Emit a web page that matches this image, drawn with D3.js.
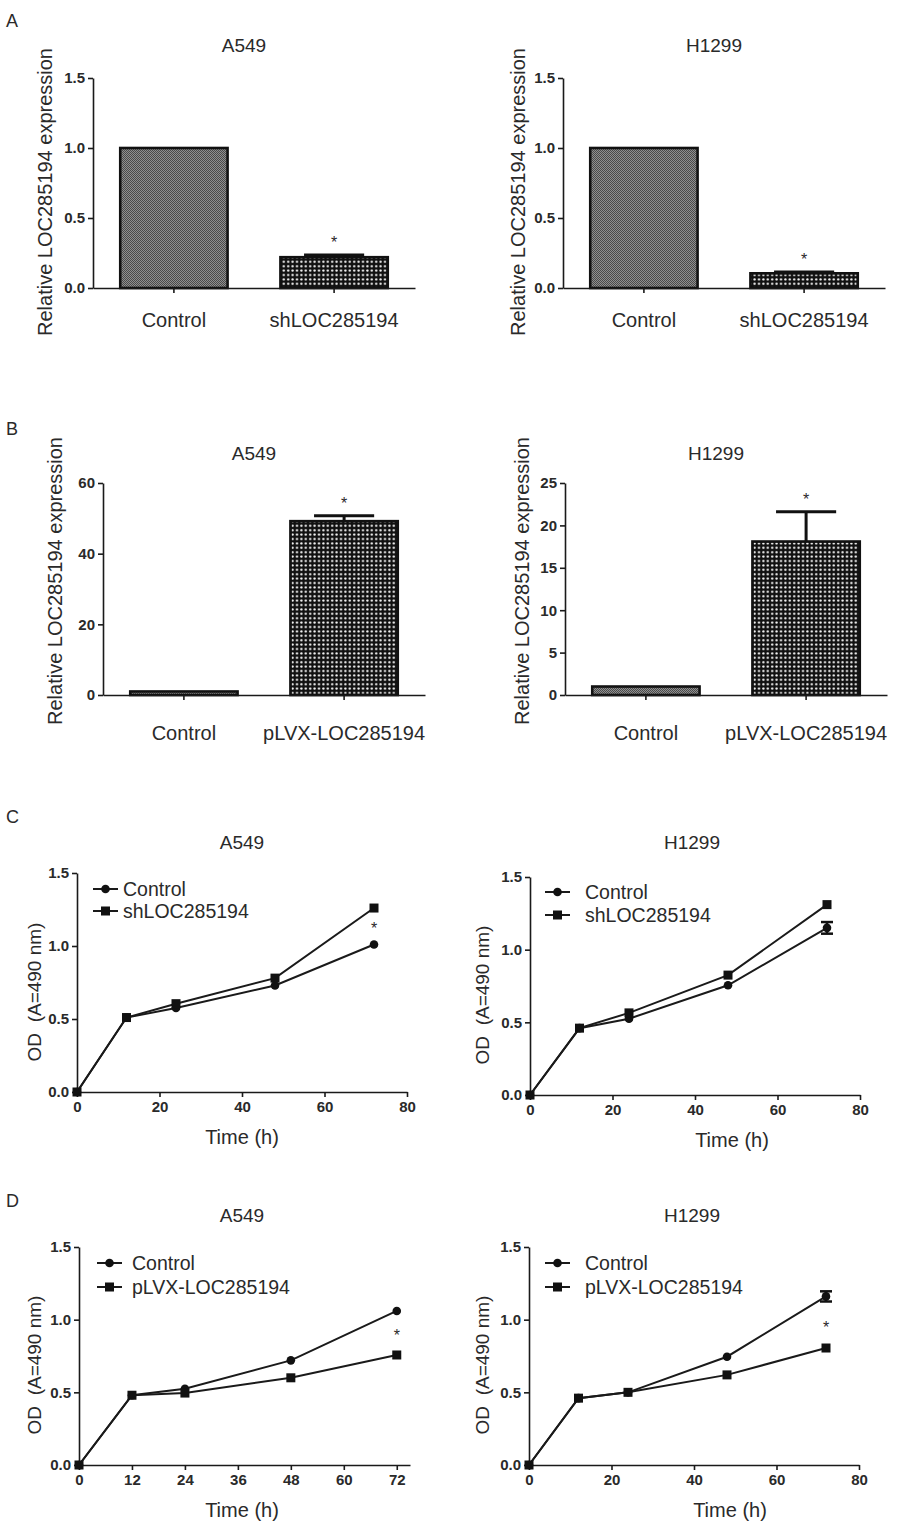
<!DOCTYPE html>
<html>
<head>
<meta charset="utf-8">
<script src="https://cdn.jsdelivr.net/npm/d3@7"></script>
<style>
  body { margin: 0; background: #fff; }
  text { font-family: "Liberation Sans", Arial, sans-serif; fill: #2a2a2a; }
  .tick text { font-weight: bold; font-size: 15px; }
  .domain, .tick line { stroke: #1a1a1a; stroke-width: 1.6px; }
</style>
</head>
<body>
<script>
// data
var knockCats = ["Control", "shLOC285194"];
var overCats = ["Control", "pLVX-LOC285194"];

var knockA549 = [1.0, 0.22];
var knockA549Err = [0, 0.015];
var knockH1299 = [1.0, 0.105];
var knockH1299Err = [0, 0.01];
var overA549 = [1.0, 49.2];
var overA549Err = [0, 1.5];
var overH1299 = [1.0, 18.1];
var overH1299Err = [0, 3.5];

var hours = [0, 12, 24, 48, 72];
var ctrlC_A549 = [0, 0.51, 0.575, 0.73, 1.01];
var shC_A549 = [0, 0.51, 0.605, 0.78, 1.26];
var ctrlC_H1299 = [0, 0.46, 0.525, 0.755, 1.15];
var ctrlC_H1299Err = [0, 0, 0, 0, 0.04];
var shC_H1299 = [0, 0.46, 0.565, 0.825, 1.31];
var ctrlD_A549 = [0, 0.48, 0.525, 0.72, 1.06];
var pD_A549 = [0, 0.48, 0.495, 0.60, 0.757];
var ctrlD_H1299 = [0, 0.46, 0.50, 0.745, 1.16];
var ctrlD_H1299Err = [0, 0, 0, 0, 0.035];
var pD_H1299 = [0, 0.46, 0.50, 0.62, 0.805];
var zeroErr = [0, 0, 0, 0, 0];

var relTicks = [0, 0.5, 1.0, 1.5];
var overTicksA549 = [0, 20, 40, 60];
var overTicksH1299 = [0, 5, 10, 15, 20, 25];
var odTicks = [0, 0.5, 1.0, 1.5];
var timeTicks80 = [0, 20, 40, 60, 80];
var timeTicks72 = [0, 12, 24, 36, 48, 60, 72];

var svg = d3.select("body").append("svg")
    .attr("width", 898)
    .attr("height", 1525);

// motifs de remplissage des barres
var defs = svg.append("defs");
var pg = defs.append("pattern").attr("id", "grayfill")
    .attr("patternUnits", "userSpaceOnUse").attr("width", 2).attr("height", 2);
pg.append("rect").attr("width", 2).attr("height", 2).attr("fill", "#909090");
pg.append("rect").attr("width", 1).attr("height", 1).attr("fill", "#4a4a4a");
pg.append("rect").attr("x", 1).attr("y", 1).attr("width", 1).attr("height", 1).attr("fill", "#4a4a4a");

var pd = defs.append("pattern").attr("id", "dotfill")
    .attr("patternUnits", "userSpaceOnUse").attr("width", 4.4).attr("height", 4.4);
pd.append("rect").attr("width", 4.4).attr("height", 4.4).attr("fill", "#111");
pd.append("circle").attr("cx", 2.2).attr("cy", 2.2).attr("r", 1.15).attr("fill", "#fff");

var fills = ["url(#grayfill)", "url(#dotfill)"];

// lettres des panneaux
svg.append("text").attr("x", 6).attr("y", 27).style("font-size", "18px").text("A");
svg.append("text").attr("x", 6).attr("y", 435).style("font-size", "18px").text("B");
svg.append("text").attr("x", 6).attr("y", 823).style("font-size", "18px").text("C");
svg.append("text").attr("x", 6).attr("y", 1207).style("font-size", "18px").text("D");

function barPanel(o) {
    var g = svg.append("g");
    var x = d3.scaleBand().domain(o.cats).range([o.x0, o.x0 + 322])
        .paddingInner(0.33).paddingOuter(0.17);
    var y = d3.scaleLinear().domain([0, o.ymax]).range([o.yb, o.yt]);
    var rows = o.cats.map(function (c, i) { return { c: c, v: o.vals[i], e: o.errs[i], i: i }; });

    g.selectAll("rect.bar").data(rows).enter().append("rect")
        .attr("class", "bar")
        .attr("x", function (d) { return x(d.c); })
        .attr("y", function (d) { return y(d.v); })
        .attr("width", x.bandwidth())
        .attr("height", function (d) { return y(0) - y(d.v); })
        .attr("fill", function (d) { return fills[d.i]; })
        .attr("stroke", "#111")
        .attr("stroke-width", 2.6);

    // barres d'erreur (vers le haut)
    var cw = x.bandwidth() * 0.28;
    var eb = g.selectAll("g.err").data(rows.filter(function (d) { return d.e > 0; })).enter().append("g");
    eb.append("line")
        .attr("x1", function (d) { return x(d.c) + x.bandwidth() / 2; })
        .attr("x2", function (d) { return x(d.c) + x.bandwidth() / 2; })
        .attr("y1", function (d) { return y(d.v); })
        .attr("y2", function (d) { return y(d.v + d.e); })
        .attr("stroke", "#111").attr("stroke-width", 3);
    eb.append("line")
        .attr("x1", function (d) { return x(d.c) + x.bandwidth() / 2 - cw; })
        .attr("x2", function (d) { return x(d.c) + x.bandwidth() / 2 + cw; })
        .attr("y1", function (d) { return y(d.v + d.e); })
        .attr("y2", function (d) { return y(d.v + d.e); })
        .attr("stroke", "#111").attr("stroke-width", 3);
    eb.append("text")
        .attr("x", function (d) { return x(d.c) + x.bandwidth() / 2; })
        .attr("y", function (d) { return y(d.v + d.e) - 7; })
        .attr("text-anchor", "middle")
        .style("font-size", "16px")
        .text("*");

    g.append("g").attr("transform", "translate(" + o.x0 + ",0)")
        .call(d3.axisLeft(y).tickValues(o.ticks).tickSize(5).tickSizeOuter(0).tickPadding(3).tickFormat(o.fmt));

    var xa = g.append("g").attr("transform", "translate(0," + o.yb + ")")
        .call(d3.axisBottom(x).tickSize(5).tickSizeOuter(0).tickPadding(o.catPad));
    xa.selectAll(".tick text").style("font-weight", "normal").style("font-size", "20px");

    g.append("text").attr("x", (o.x0 + o.x0 + 322) / 2 - 10).attr("y", o.titleY)
        .attr("text-anchor", "middle").style("font-size", "19px").text(o.title);

    g.append("text")
        .attr("transform", "translate(" + o.labX + "," + o.labY + ") rotate(-90)")
        .attr("text-anchor", "middle").attr("dy", "0.35em")
        .style("font-size", "20px")
        .text("Relative LOC285194 expression");
}

function linePanel(o) {
    var g = svg.append("g");
    var x = d3.scaleLinear().domain([0, o.xmax]).range([o.x0, o.x1]);
    var y = d3.scaleLinear().domain([0, 1.5]).range([o.yb, o.yt]);
    var line = d3.line().x(function (d) { return x(d.t); }).y(function (d) { return y(d.v); });

    g.append("g").attr("transform", "translate(0," + o.yb + ")")
        .call(d3.axisBottom(x).tickValues(o.xticks).tickSize(5).tickSizeOuter(0).tickPadding(4));
    g.append("g").attr("transform", "translate(" + o.x0 + ",0)")
        .call(d3.axisLeft(y).tickValues(odTicks).tickSize(5).tickSizeOuter(0).tickPadding(3).tickFormat(d3.format(".1f")));

    o.series.forEach(function (s) {
        var pts = hours.map(function (t, i) { return { t: t, v: s.vals[i], e: s.errs[i] }; });
        g.append("path").datum(pts).attr("d", line)
            .attr("fill", "none").attr("stroke", "#1a1a1a").attr("stroke-width", 2);
        var eps = pts.filter(function (d) { return d.e > 0; });
        g.selectAll(null).data(eps).enter().append("line")
            .attr("x1", function (d) { return x(d.t); }).attr("x2", function (d) { return x(d.t); })
            .attr("y1", function (d) { return y(d.v - d.e); }).attr("y2", function (d) { return y(d.v + d.e); })
            .attr("stroke", "#111").attr("stroke-width", 2.5);
        [-1, 1].forEach(function (sg) {
            g.selectAll(null).data(eps).enter().append("line")
                .attr("x1", function (d) { return x(d.t) - 6; }).attr("x2", function (d) { return x(d.t) + 6; })
                .attr("y1", function (d) { return y(d.v + sg * d.e); }).attr("y2", function (d) { return y(d.v + sg * d.e); })
                .attr("stroke", "#111").attr("stroke-width", 2.5);
        });
        if (s.shape === "circle") {
            g.selectAll(null).data(pts).enter().append("circle")
                .attr("cx", function (d) { return x(d.t); }).attr("cy", function (d) { return y(d.v); })
                .attr("r", 4.3).attr("fill", "#111");
        } else {
            g.selectAll(null).data(pts).enter().append("rect")
                .attr("x", function (d) { return x(d.t) - 4.5; }).attr("y", function (d) { return y(d.v) - 4.5; })
                .attr("width", 9).attr("height", 9).attr("fill", "#111");
        }
    });

    if (o.star !== null) {
        g.append("text").attr("x", x(72)).attr("y", y(o.star) + 6)
            .attr("text-anchor", "middle").style("font-size", "16px").text("*");
    }

    // legende
    o.series.forEach(function (s, i) {
        var ly = o.legY + i * o.legGap;
        g.append("line").attr("x1", o.legX).attr("x2", o.legX + 25).attr("y1", ly).attr("y2", ly)
            .attr("stroke", "#1a1a1a").attr("stroke-width", 2);
        if (s.shape === "circle") {
            g.append("circle").attr("cx", o.legX + 12.5).attr("cy", ly).attr("r", 4.3).attr("fill", "#111");
        } else {
            g.append("rect").attr("x", o.legX + 8).attr("y", ly - 4.5).attr("width", 9).attr("height", 9).attr("fill", "#111");
        }
        g.append("text").attr("x", o.legX + o.legText).attr("y", ly).attr("dy", "0.35em")
            .style("font-size", "19.5px").text(s.name);
    });

    g.append("text").attr("x", o.titleX).attr("y", o.titleY)
        .attr("text-anchor", "middle").style("font-size", "19px").text(o.title);
    g.append("text").attr("x", o.timeX).attr("y", o.yb + 45).attr("dy", "0.35em")
        .attr("text-anchor", "middle").style("font-size", "20px").text("Time (h)");
    g.append("text")
        .attr("transform", "translate(" + o.labX + "," + (o.yb - 100) + ") rotate(-90)")
        .attr("text-anchor", "middle").attr("dy", "0.35em")
        .style("font-size", "19px").style("white-space", "pre")
        .text("OD  (A=490 nm)");
}

var fmt1 = d3.format(".1f");
var fmt0 = d3.format("d");

barPanel({ cats: knockCats, vals: knockA549, errs: knockA549Err, x0: 93, yb: 288, yt: 78, ymax: 1.5,
    ticks: relTicks, fmt: fmt1, catPad: 20, title: "A549", titleY: 52, labX: 45, labY: 192 });
barPanel({ cats: knockCats, vals: knockH1299, errs: knockH1299Err, x0: 563, yb: 288, yt: 78, ymax: 1.5,
    ticks: relTicks, fmt: fmt1, catPad: 20, title: "H1299", titleY: 52, labX: 518, labY: 192 });
barPanel({ cats: overCats, vals: overA549, errs: overA549Err, x0: 103, yb: 695, yt: 483, ymax: 60,
    ticks: overTicksA549, fmt: fmt0, catPad: 26, title: "A549", titleY: 460, labX: 55, labY: 581 });
barPanel({ cats: overCats, vals: overH1299, errs: overH1299Err, x0: 565, yb: 695, yt: 483, ymax: 25,
    ticks: overTicksH1299, fmt: fmt0, catPad: 26, title: "H1299", titleY: 460, labX: 522, labY: 581 });

linePanel({ x0: 77, x1: 407, xmax: 80, yb: 1092, yt: 873, xticks: timeTicks80, star: 1.12,
    series: [{ name: "Control", shape: "circle", vals: ctrlC_A549, errs: zeroErr },
             { name: "shLOC285194", shape: "square", vals: shC_A549, errs: zeroErr }],
    legX: 93, legY: 889, legGap: 22, legText: 30, title: "A549", titleX: 242, titleY: 849, timeX: 242, labX: 34 });
linePanel({ x0: 530, x1: 860, xmax: 80, yb: 1095, yt: 877, xticks: timeTicks80, star: null,
    series: [{ name: "Control", shape: "circle", vals: ctrlC_H1299, errs: ctrlC_H1299Err },
             { name: "shLOC285194", shape: "square", vals: shC_H1299, errs: zeroErr }],
    legX: 545, legY: 892, legGap: 23, legText: 40, title: "H1299", titleX: 692, titleY: 849, timeX: 732, labX: 482 });
linePanel({ x0: 79, x1: 410, xmax: 75, yb: 1465, yt: 1247, xticks: timeTicks72, star: 0.895,
    series: [{ name: "Control", shape: "circle", vals: ctrlD_A549, errs: zeroErr },
             { name: "pLVX-LOC285194", shape: "square", vals: pD_A549, errs: zeroErr }],
    legX: 97, legY: 1263, legGap: 24, legText: 35, title: "A549", titleX: 242, titleY: 1222, timeX: 242, labX: 34 });
linePanel({ x0: 529, x1: 859, xmax: 80, yb: 1465, yt: 1247, xticks: timeTicks80, star: 0.95,
    series: [{ name: "Control", shape: "circle", vals: ctrlD_H1299, errs: ctrlD_H1299Err },
             { name: "pLVX-LOC285194", shape: "square", vals: pD_H1299, errs: zeroErr }],
    legX: 545, legY: 1263, legGap: 24, legText: 40, title: "H1299", titleX: 692, titleY: 1222, timeX: 730, labX: 482 });
</script>
</body>
</html>
